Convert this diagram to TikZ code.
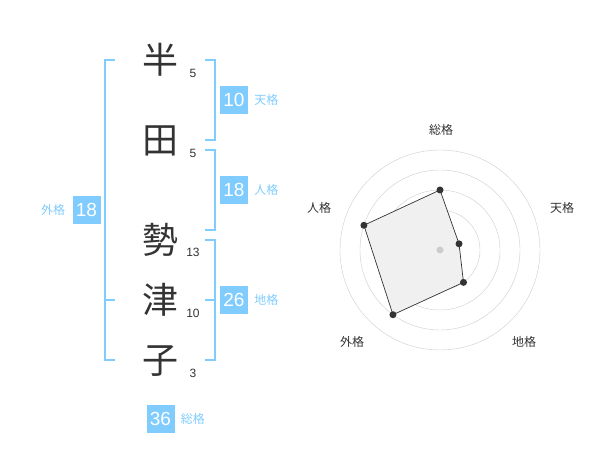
\documentclass[tikz,border=0pt]{standalone}
\usepackage{fontspec}
\setmainfont{Liberation Sans}
\newfontfamily\cjk{Noto Sans CJK JP}
\usetikzlibrary{positioning}
\definecolor{kakublue}{HTML}{80CCFF}
\definecolor{ink}{HTML}{333333}

\begin{document}
\begin{tikzpicture}[x=1pt, y=-1pt,
  kanji/.style={inner sep=0pt, text=ink, font=\cjk\fontsize{36}{36}\selectfont},
  strokes/.style={inner sep=0pt, text=ink, font=\fontsize{12}{12}\selectfont},
  numbox/.style={fill=kakublue, text=white, minimum size=28pt, inner sep=0pt, font=\fontsize{19}{19}\selectfont},
  kaku/.style={inner sep=0pt, text=kakublue, font=\cjk\fontsize{12}{12}\selectfont},
  bracket/.style={draw=kakublue, line width=2pt},
  axis/.style={inner sep=0pt, text=ink, font=\cjk\fontsize{12}{12}\selectfont},
  dot/.style={circle, fill=ink, inner sep=0pt, minimum size=7pt}]
\useasboundingbox (0,0) rectangle (600,470);

% name
\node[kanji] (k1) at (160,60) {半};
\node[kanji] (k2) at (160,141) {田};
\node[kanji] (k3) at (160,240) {勢};
\node[kanji] (k4) at (160,300) {津};
\node[kanji] (k5) at (160,361) {子};

\node[strokes] (s1) at (193,73) {5};
\node[strokes] (s2) at (193,153) {5};
\node[strokes] (s3) at (193,252) {13};
\node[strokes] (s4) at (193,313) {10};
\node[strokes] (s5) at (193,373) {3};

% brackets
\draw[bracket] (205,60) -- (215,60) -- (215,140) -- (205,140);
\draw[bracket] (205,150) -- (215,150) -- (215,230) -- (205,230);
\draw[bracket] (205,240) -- (215,240) -- (215,360) -- (205,360);
\draw[bracket] (205,300) -- (215,300);
\draw[bracket] (115,60) -- (105,60) -- (105,360) -- (115,360);
\draw[bracket] (105,300) -- (115,300);

% values
\node[numbox] (ten) at (234,100) {10};
\node[kaku, right=6pt of ten] (tenl) {天格};
\node[numbox] (jin) at (234,190) {18};
\node[kaku, right=6pt of jin] (jinl) {人格};
\node[numbox] (chi) at (234,300) {26};
\node[kaku, right=6pt of chi] (chil) {地格};
\node[numbox] (gai) at (86.5,210) {18};
\node[kaku, left=7pt of gai] (gail) {外格};
\node[numbox] (sou) at (160.5,419) {36};
\node[kaku, right=6pt of sou] (soul) {総格};

% radar
\begin{scope}[shift={(440,250)}, y=1pt]
  \foreach \r in {20,40,60,80,100}
    \draw[gray!40] (0,0) circle (\r);
  \filldraw[fill=gray!12, draw=ink, line width=0.7pt]
    (90:60) -- (18:20) -- (-54:40) -- (-126:80) -- (162:80) -- cycle;
  \fill[gray!40] (0,0) circle (3.5);
  \foreach \a/\r/\n in {90/60/p1, 18/20/p2, -54/40/p3, -126/80/p4, 162/80/p5}
    \node[dot] (\n) at (\a:\r) {};
  \node[axis] (ax1) at (1,120) {総格};
  \node[axis] (ax2) at (122,42) {天格};
  \node[axis] (ax3) at (84,-92) {地格};
  \node[axis] (ax4) at (-88,-92) {外格};
  \node[axis] (ax5) at (-121,42) {人格};
\end{scope}
\end{tikzpicture}
\end{document}
